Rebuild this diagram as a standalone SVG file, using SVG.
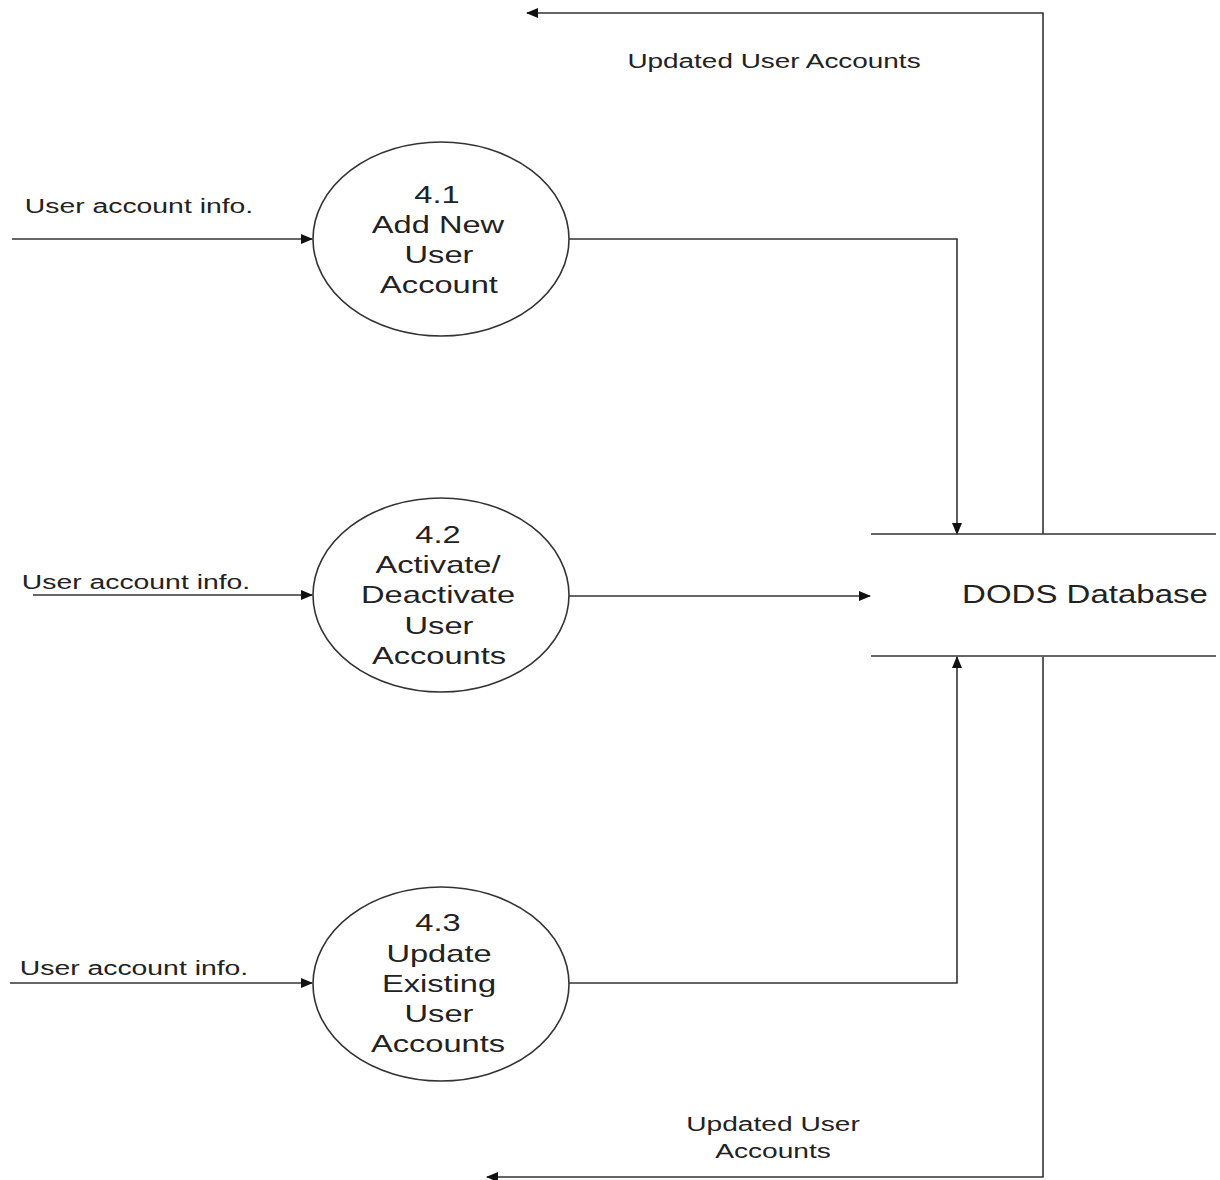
<svg xmlns="http://www.w3.org/2000/svg" width="1220" height="1180" viewBox="0 0 1220 1180">
<style>
  text { font-family: "Liberation Sans", Arial, sans-serif; fill: #222; text-anchor: middle; }
  .lbl { font-size: 21px; }
  .ptxt { font-size: 24px; }
  .db { font-size: 26px; }
  .proc { fill: #fff; stroke: #333; stroke-width: 1.6; }
  .flow { fill: none; stroke: #333; stroke-width: 1.6; }
  .store { stroke: #333; stroke-width: 1.6; }
</style>
<defs>
  <marker id="arr" markerUnits="userSpaceOnUse" markerWidth="12" markerHeight="10" refX="11" refY="5" orient="auto">
    <path d="M0,0 L12,5 L0,10 Z" fill="#111"/>
  </marker>
</defs>
<rect width="1220" height="1180" fill="#fff"/>

<g id="connectors">
  <path class="flow" d="M12,239 H312" marker-end="url(#arr)"/>
  <path class="flow" d="M33,595 H312" marker-end="url(#arr)"/>
  <path class="flow" d="M10,983 H312" marker-end="url(#arr)"/>
  <path class="flow" d="M569,239 H957 V534" marker-end="url(#arr)"/>
  <path class="flow" d="M569,596 H870" marker-end="url(#arr)"/>
  <path class="flow" d="M569,983 H957 V657" marker-end="url(#arr)"/>
  <path class="flow" d="M1043,534 V13 H527" marker-end="url(#arr)"/>
  <path class="flow" d="M1043,657 V1177 H487" marker-end="url(#arr)"/>
  <text class="lbl" transform="translate(139,213) scale(1.35,1)">User account info.</text>
  <text class="lbl" transform="translate(136,589) scale(1.35,1)">User account info.</text>
  <text class="lbl" transform="translate(134,975) scale(1.35,1)">User account info.</text>
  <text class="lbl" transform="translate(774,68) scale(1.33,1)">Updated User Accounts</text>
  <text class="lbl" transform="translate(773,1131) scale(1.34,1)">Updated User</text>
  <text class="lbl" transform="translate(773,1158) scale(1.34,1)">Accounts</text>
</g>

<g id="p41">
  <ellipse class="proc" cx="441" cy="239" rx="128" ry="97"/>
  <text class="ptxt" transform="translate(437,203) scale(1.36,1)">4.1</text>
  <text class="ptxt" transform="translate(438,233) scale(1.36,1)">Add New</text>
  <text class="ptxt" transform="translate(439,263) scale(1.36,1)">User</text>
  <text class="ptxt" transform="translate(439,293) scale(1.36,1)">Account</text>
</g>

<g id="p42">
  <ellipse class="proc" cx="441" cy="595" rx="128" ry="97"/>
  <text class="ptxt" transform="translate(438,543) scale(1.36,1)">4.2</text>
  <text class="ptxt" transform="translate(438,573) scale(1.36,1)">Activate/</text>
  <text class="ptxt" transform="translate(438,603) scale(1.36,1)">Deactivate</text>
  <text class="ptxt" transform="translate(439,634) scale(1.36,1)">User</text>
  <text class="ptxt" transform="translate(439,664) scale(1.36,1)">Accounts</text>
</g>

<g id="p43">
  <ellipse class="proc" cx="441" cy="984" rx="128" ry="97"/>
  <text class="ptxt" transform="translate(438,931) scale(1.36,1)">4.3</text>
  <text class="ptxt" transform="translate(439,962) scale(1.36,1)">Update</text>
  <text class="ptxt" transform="translate(439,992) scale(1.36,1)">Existing</text>
  <text class="ptxt" transform="translate(439,1022) scale(1.36,1)">User</text>
  <text class="ptxt" transform="translate(438,1052) scale(1.36,1)">Accounts</text>
</g>

<g id="dods">
  <line class="store" x1="871" y1="534" x2="1216" y2="534"/>
  <line class="store" x1="871" y1="656" x2="1216" y2="656"/>
  <text class="db" transform="translate(1085,603) scale(1.27,1)">DODS Database</text>
</g>
</svg>
